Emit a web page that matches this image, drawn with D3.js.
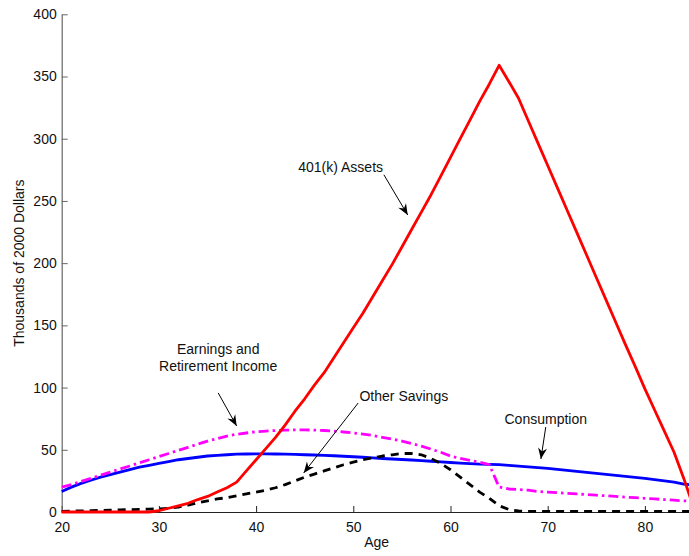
<!DOCTYPE html>
<html>
<head>
<meta charset="utf-8">
<script src="https://cdn.jsdelivr.net/npm/d3@7"></script>
<style>
  html, body { margin: 0; padding: 0; background: #fff; }
  svg { display: block; }
  text { font-family: "Liberation Sans", Arial, Helvetica, sans-serif; }
</style>
</head>
<body>
<svg id="chart" width="689" height="556"></svg>
<script>
// Life-cycle profiles by age, thousands of 2000 dollars
const ages = d3.range(20, 86);

const assets401k = [
  0, 0, 0, 0, 0, 0, 0, 0, 0, 0,
  1, 3, 5, 7, 10, 12.5, 16, 19.5, 24, 33,
  42, 51, 60, 70, 81, 91, 102, 112, 124, 136,
  148, 160, 173, 186, 199, 213, 227, 241, 255, 270,
  285, 300, 315, 330, 344, 359, 346, 332.5, 314.5, 296.5,
  278.5, 260.5, 242.5, 224.5, 206.5, 188.5, 170.5, 152.5, 134.5, 117,
  99, 82, 65, 48, 27, 4
];

const consumption = [
  16.5, 20, 23, 25.5, 28, 30, 32, 34, 36, 37.5,
  39, 40.5, 42, 43, 44, 45, 45.5, 46, 46.5, 46.6,
  46.7, 46.7, 46.6, 46.5, 46.3, 46, 45.8, 45.5, 45.2, 44.8,
  44.4, 44, 43.5, 43, 42.6, 42.2, 41.8, 41.3, 40.8, 40.3,
  39.8, 39.3, 38.8, 38.4, 38.3, 38, 37.4, 36.8, 36.2, 35.6,
  35, 34.2, 33.4, 32.6, 31.8, 31, 30.2, 29.4, 28.6, 27.8,
  27, 26, 25, 24, 22.5, 21.5
];

const earnings = [
  20, 22, 24.5, 27, 29.5, 32, 34.5, 37, 39.5, 42,
  44.5, 47, 49.5, 52, 54.5, 57, 59, 61, 62.5, 63.5,
  64.5, 65, 65.5, 65.8, 66, 66, 65.8, 65.5, 65, 64.3,
  63.5, 62.5, 61.5, 60, 58.5, 57, 55, 53, 50.5, 48,
  45, 43, 41.5, 40, 38, 20, 18.5, 18, 17.5, 16.5,
  16, 15.5, 15, 14.5, 14, 13.5, 13, 12.5, 12, 11.5,
  11, 10.5, 10, 9.5, 9, 8.5
];

const otherSavings = [
  0.5, 0.7, 0.9, 1.1, 1.3, 1.5, 1.7, 1.9, 2.1, 2.3,
  2.5, 3, 4, 5.5, 7.5, 9, 10.5, 11.5, 13, 14.5,
  16, 17.5, 19.5, 22, 25, 28, 30.5, 33, 35.5, 38,
  40, 42, 43.5, 45, 46, 47, 47, 46, 43, 39,
  34, 28, 22, 16, 11, 5, 2, 0.8, 0.5, 0.5,
  0.5, 0.5, 0.5, 0.5, 0.5, 0.5, 0.5, 0.5, 0.5, 0.5,
  0.5, 0.5, 0.5, 0.5, 0.5, 0.5
];

const xTicks = [20, 30, 40, 50, 60, 70, 80];
const yTicks = [0, 50, 100, 150, 200, 250, 300, 350, 400];

// Text callouts: label lines anchored at (age, value), arrow from -> to in data units
const callouts = [
  { lines: ["401(k) Assets"], at: [48.7, 273], from: [53.15, 271], to: [55.6, 238.7] },
  { lines: ["Earnings and", "Retirement Income"], at: [36.1, 113.3], from: [36.1, 95.7], to: [38.0, 69.1] },
  { lines: ["Other Savings"], at: [55.2, 89.5], from: [50.5, 87.6], to: [44.9, 31.4] },
  { lines: ["Consumption"], at: [69.8, 70.7], from: [69.8, 68.3], to: [69.3, 42.6] }
];

const svg = d3.select("#chart");

const x = d3.scaleLinear().domain([20, 85]).range([61.7, 693.5]);
const y = d3.scaleLinear().domain([0, 400]).range([512, 14.3]);

// Axes with inward ticks
const xAxis = svg.append("g")
  .attr("transform", `translate(0,${y(0)})`)
  .call(d3.axisBottom(x).tickValues(xTicks).tickSizeInner(-6).tickSizeOuter(0).tickPadding(10));
xAxis.select(".domain").attr("stroke", "#222").attr("stroke-width", 1.2);
xAxis.selectAll(".tick line").attr("stroke", "#222");
xAxis.selectAll("text").attr("font-size", 14).attr("fill", "#111");

const yAxis = svg.append("g")
  .attr("transform", `translate(${x(20)},0)`)
  .call(d3.axisLeft(y).tickValues(yTicks).tickSizeInner(-6).tickSizeOuter(0).tickPadding(5));
yAxis.select(".domain").attr("stroke", "#666").attr("stroke-width", 1.2);
yAxis.selectAll(".tick line").attr("stroke", "#666");
yAxis.selectAll("text").attr("font-size", 14).attr("fill", "#111");

// Axis titles
svg.append("text")
  .attr("x", x(52.4)).attr("y", 547)
  .attr("text-anchor", "middle").attr("font-size", 14).attr("fill", "#111")
  .text("Age");

svg.append("text")
  .attr("transform", `translate(24,${(y(0) + y(400)) / 2}) rotate(-90)`)
  .attr("text-anchor", "middle").attr("font-size", 14).attr("fill", "#111")
  .text("Thousands of 2000 Dollars");

// Series lines
const line = vals => d3.line()
  .x((d, i) => x(ages[i]))
  .y(d => y(d))(vals);

const series = [
  { vals: consumption, color: "#0000ff", dash: null },
  { vals: earnings, color: "#ff00ff", dash: "10,4,2.5,4" },
  { vals: otherSavings, color: "#000000", dash: "8,6" },
  { vals: assets401k, color: "#ff0000", dash: null }
];

svg.append("g").selectAll("path")
  .data(series)
  .join("path")
  .attr("d", d => line(d.vals))
  .attr("fill", "none")
  .attr("stroke", d => d.color)
  .attr("stroke-width", 2.8)
  .attr("stroke-linejoin", "round")
  .attr("stroke-dasharray", d => d.dash);

// Callout arrows and labels
const defs = svg.append("defs");
defs.append("marker")
  .attr("id", "head")
  .attr("viewBox", "-12 -6 14 12")
  .attr("refX", 0).attr("refY", 0)
  .attr("markerWidth", 14).attr("markerHeight", 12)
  .attr("markerUnits", "userSpaceOnUse")
  .attr("orient", "auto")
  .append("path")
  .attr("d", "M0,0 L-11,-4.5 L-7.5,0 L-11,4.5 Z")
  .attr("fill", "#000");

const notes = svg.append("g");
callouts.forEach(c => {
  notes.append("line")
    .attr("x1", x(c.from[0])).attr("y1", y(c.from[1]))
    .attr("x2", x(c.to[0])).attr("y2", y(c.to[1]))
    .attr("stroke", "#000").attr("stroke-width", 1)
    .attr("marker-end", "url(#head)");
  const t = notes.append("text")
    .attr("text-anchor", "middle").attr("font-size", 14).attr("fill", "#111")
    .attr("x", x(c.at[0])).attr("y", y(c.at[1]) - (c.lines.length - 1) * 17);
  c.lines.forEach((s, i) => {
    t.append("tspan").attr("x", x(c.at[0])).attr("dy", i === 0 ? 0 : 17).text(s);
  });
});
</script>
</body>
</html>
